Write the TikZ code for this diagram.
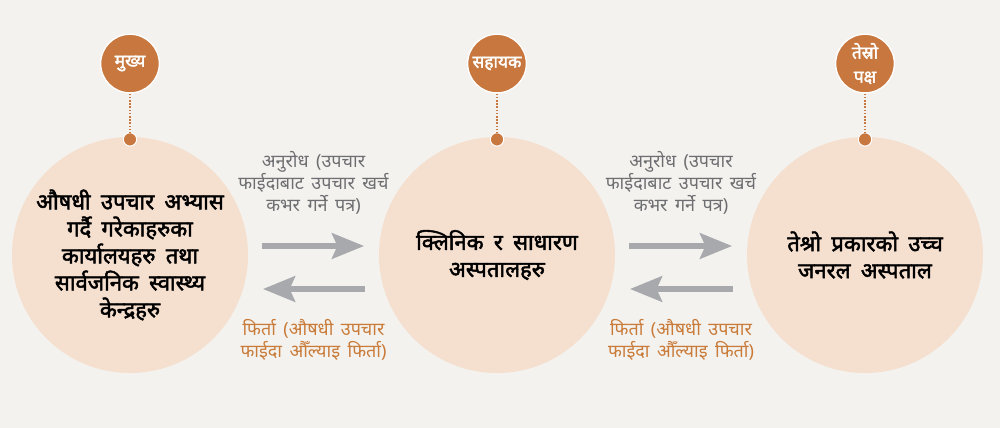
\documentclass[tikz,border=0pt]{standalone}
\usepackage{fontspec}
\newfontfamily\deva[Script=Devanagari,WordSpace=1.6]{Noto Sans}
\newfontfamily\devabold[Script=Devanagari,FakeBold=2.2,WordSpace=1.8]{Noto Sans}
\usetikzlibrary{positioning,arrows.meta}
\definecolor{bgcolor}{HTML}{F4F2EE}
\definecolor{peach}{HTML}{F5DFCF}
\definecolor{rust}{HTML}{C8773E}
\definecolor{arrowgray}{HTML}{A7A9AC}
\definecolor{labelgray}{HTML}{6D6E71}
\definecolor{labelorange}{HTML}{C97B3A}

\begin{document}
\begin{tikzpicture}[
		x=0.75pt,y=-0.75pt,
		party/.style={
			circle,
			fill=peach,
			minimum size=177pt,
			inner sep=0pt,
			align=center,
			font=\devabold\fontsize{16.5}{20.25}\selectfont,
		},
		role/.style={
			circle,
			fill=rust,
			draw=white,
			line width=1pt,
			minimum size=44pt,
			inner sep=0pt,
			align=center,
			text=white,
			font=\devabold\fontsize{13}{18}\selectfont,
		},
		dot/.style={circle, fill=rust, draw=white, line width=0.75pt, minimum size=10pt, inner sep=0pt},
		link/.style={rust, line width=1.2pt, dash pattern=on 1.2pt off 1.2pt},
		flow/.style={arrowgray, line width=4.5pt, shorten <=10.5pt, shorten >=11pt,
			-{Stealth[length=24pt,width=19pt,inset=4pt]}},
		request/.style={align=center, text=labelgray, font=\deva\fontsize{13.5}{16.5}\selectfont},
		refund/.style={align=center, text=labelorange, font=\deva\fontsize{13.5}{16.5}\selectfont},
		]
		% Draw the background
		\fill[bgcolor] (0,0) rectangle (1000,428);
		% Draw the parties
		\node [party] (office) at (130,255) {औषधी उपचार अभ्यास\\गर्दै गरेकाहरुका\\कार्यालयहरु तथा\\सार्वजनिक स्वास्थ्य\\केन्द्रहरु};
		\node [party] (clinic) at (497,255) {क्लिनिक र साधारण\\अस्पतालहरु};
		\node [party] (hospital) at (865,255) {तेश्रो प्रकारको उच्च\\जनरल अस्पताल};
		% Draw the role badges and the dotted links
		\foreach \p/\r/\txt in {office/main/मुख्य, clinic/helper/सहायक, hospital/third/{तेस्रो\\पक्ष}} {
			\node [dot] (dot\r) at ([yshift=-2pt]\p.north) {};
			\node [role,above=29pt of dot\r] (\r) {\txt};
			\draw [link] (\r) -- (dot\r);
		}
		% Draw the request and refund arrows with labels
		\foreach \a/\b/\n in {office/clinic/1, clinic/hospital/2} {
			\draw [flow] ([yshift=6.75pt]\a.east) -- node[request,above=18pt] (ask\n) {अनुरोध (उपचार\\फाईदाबाट उपचार खर्च\\कभर गर्ने पत्र)} ([yshift=6.75pt]\b.west);
			\draw [flow] ([yshift=-25.5pt]\b.west) -- node[refund,below=17pt] (back\n) {फिर्ता (औषधी उपचार\\फाईदा औँल्याइ फिर्ता)} ([yshift=-25.5pt]\a.east);
		}
	\end{tikzpicture}
\end{document}
